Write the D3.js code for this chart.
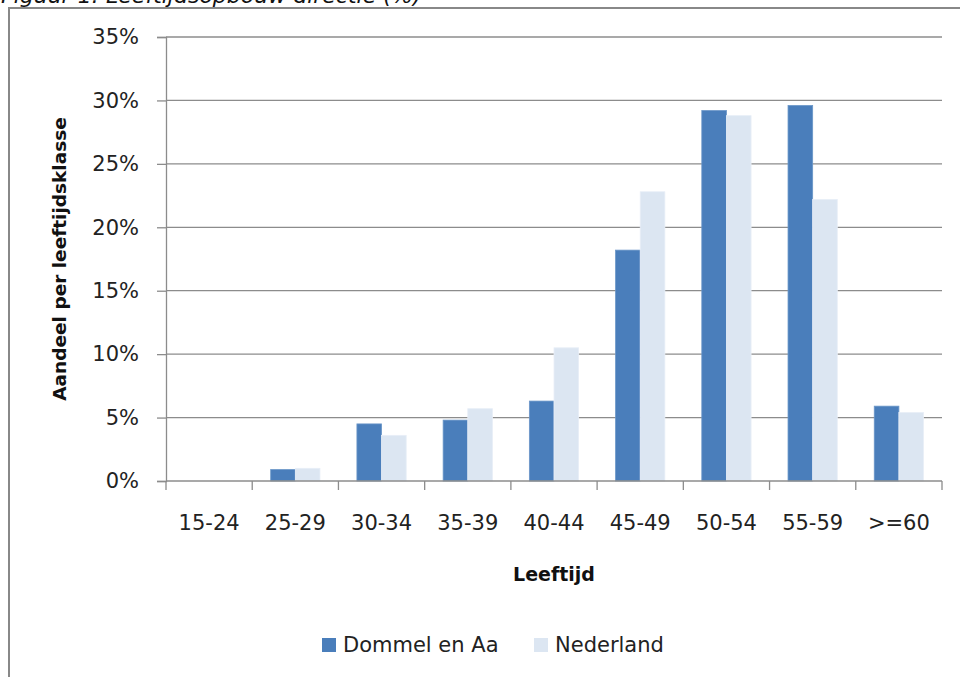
<!DOCTYPE html>
<html>
<head>
<meta charset="utf-8">
<script src="https://cdn.jsdelivr.net/npm/d3@7"></script>
<style>
  body { margin: 0; background: #fff; }
  svg { display: block; font-family: "DejaVu Sans", sans-serif; }
</style>
</head>
<body>
<div id="vis"></div>
<script>
// data (percentages)
const CATEGORIES = ["15-24", "25-29", "30-34", "35-39", "40-44", "45-49", "50-54", "55-59", ">=60"];
const DOMMEL = [0, 0.9, 4.5, 4.8, 6.3, 18.2, 29.2, 29.6, 5.9];
const NEDERLAND = [0, 1.0, 3.6, 5.7, 10.5, 22.8, 28.8, 22.2, 5.4];
const SERIES = ["Dommel en Aa", "Nederland"];
const Y_TICKS = [0, 5, 10, 15, 20, 25, 30, 35];

const FRAME_WIDTH = 960;
const FRAME_HEIGHT = 677;
const MARGINS = {left: 166, right: 18, top: 37, bottom: 196};
const VIS_WIDTH = FRAME_WIDTH - MARGINS.left - MARGINS.right;
const VIS_HEIGHT = FRAME_HEIGHT - MARGINS.top - MARGINS.bottom;
const COLORS = ["#4A7EBB", "#DCE6F2"];
const GRID = "#8C8C8C";

const svg = d3.select("#vis").append("svg")
  .attr("width", FRAME_WIDTH)
  .attr("height", FRAME_HEIGHT);

// cropped caption above the chart box
svg.append("text")
  .attr("x", 1).attr("y", 3)
  .attr("font-size", 22).attr("font-style", "italic")
  .attr("fill", "#111")
  .text("Figuur 1: Leeftijdsopbouw directie (%)");

// chart border (runs off the right and bottom)
svg.append("path")
  .attr("d", "M9,690 V8 H970")
  .attr("fill", "none").attr("stroke", "#888").attr("stroke-width", 2);

const X_SCALE = d3.scaleBand().domain(CATEGORIES).range([0, VIS_WIDTH]);
// excel gap width 150% -> bars take 2/3.5 of the band
const X_INNER = d3.scaleBand().domain(SERIES)
  .range([0, X_SCALE.bandwidth()]).paddingOuter(0.75).paddingInner(0);
const Y_SCALE = d3.scaleLinear().domain([0, 35]).range([VIS_HEIGHT, 0]);

const g = svg.append("g").attr("transform", "translate(" + MARGINS.left + "," + MARGINS.top + ")");

// gridlines
g.append("g").selectAll("line").data(Y_TICKS.slice(1)).join("line")
  .attr("x1", 0).attr("x2", VIS_WIDTH)
  .attr("y1", d => Y_SCALE(d)).attr("y2", d => Y_SCALE(d))
  .attr("stroke", GRID).attr("stroke-width", 1.3);

// bars
const rows = CATEGORIES.map((c, i) => ({cat: c, vals: [DOMMEL[i], NEDERLAND[i]]}));
g.append("g").selectAll("g").data(rows).join("g")
  .attr("transform", d => "translate(" + X_SCALE(d.cat) + ",0)")
  .selectAll("rect").data(d => d.vals.map((v, j) => ({s: SERIES[j], v: v, j: j})))
  .join("rect")
  .attr("x", d => X_INNER(d.s))
  .attr("width", X_INNER.bandwidth())
  .attr("y", d => Y_SCALE(d.v))
  .attr("height", d => VIS_HEIGHT - Y_SCALE(d.v))
  .attr("fill", d => COLORS[d.j])
  .attr("stroke", d => d.j === 0 ? "#6A96C8" : "#E8EEF7")
  .attr("stroke-width", 0.8);

// y axis
const yAxis = g.append("g")
  .call(d3.axisLeft(Y_SCALE).tickValues(Y_TICKS).tickFormat(d => d + "%").tickSize(9).tickPadding(18));
yAxis.select(".domain").attr("stroke", GRID).attr("stroke-width", 1.3);
yAxis.selectAll(".tick line").attr("stroke", GRID).attr("stroke-width", 1.3);
yAxis.selectAll("text").attr("font-size", 21).attr("fill", "#222")
  .attr("font-family", "DejaVu Sans");

// x axis: ticks at category boundaries
const xAxis = g.append("g").attr("transform", "translate(0," + VIS_HEIGHT + ")");
xAxis.append("line").attr("x1", 0).attr("x2", VIS_WIDTH)
  .attr("stroke", GRID).attr("stroke-width", 1.3);
xAxis.selectAll("line.b").data(d3.range(CATEGORIES.length + 1)).join("line")
  .attr("class", "b")
  .attr("x1", i => i * X_SCALE.step()).attr("x2", i => i * X_SCALE.step())
  .attr("y1", 0).attr("y2", 9)
  .attr("stroke", GRID).attr("stroke-width", 1.3);
xAxis.selectAll("text").data(CATEGORIES).join("text")
  .attr("x", d => X_SCALE(d) + X_SCALE.bandwidth() / 2)
  .attr("y", 49)
  .attr("text-anchor", "middle")
  .attr("font-size", 21).attr("fill", "#222")
  .text(d => d);

// axis titles
svg.append("text")
  .attr("x", MARGINS.left + VIS_WIDTH / 2).attr("y", 581)
  .attr("text-anchor", "middle")
  .attr("font-size", 19).attr("font-weight", "bold").attr("fill", "#111")
  .text("Leeftijd");

svg.append("text")
  .attr("transform", "translate(66," + (MARGINS.top + VIS_HEIGHT / 2) + ") rotate(-90)")
  .attr("text-anchor", "middle")
  .attr("font-size", 18.5).attr("font-weight", "bold").attr("fill", "#111")
  .text("Aandeel per leeftijdsklasse");

// legend
const LEGEND_X = [322, 534];
const legend = svg.append("g").selectAll("g").data(SERIES).join("g")
  .attr("transform", (d, i) => "translate(" + LEGEND_X[i] + ",638)");
legend.append("rect")
  .attr("width", 14).attr("height", 14)
  .attr("fill", (d, i) => COLORS[i]);
legend.append("text")
  .attr("x", 21).attr("y", 14)
  .attr("font-size", 21).attr("fill", "#222")
  .text(d => d);
</script>
</body>
</html>
